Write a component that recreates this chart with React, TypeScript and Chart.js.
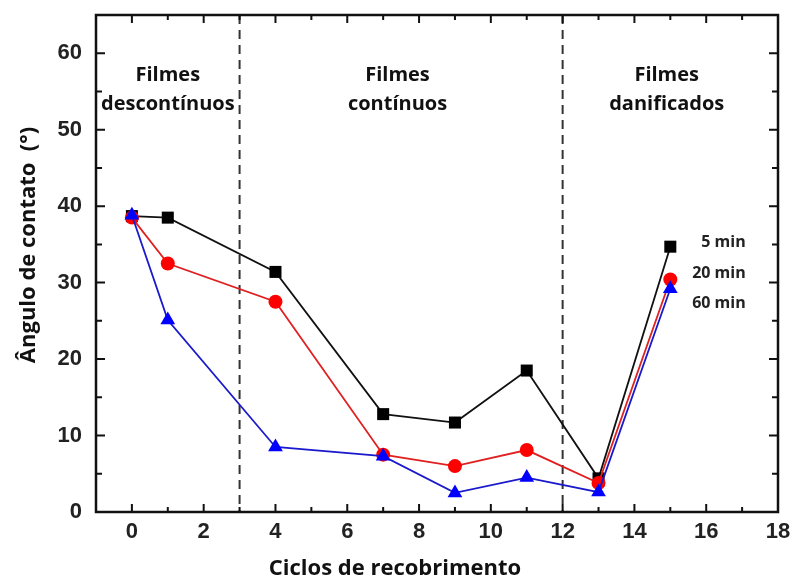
import React, { useEffect, useRef } from "react";
import { Chart, registerables } from "chart.js";

Chart.register(...registerables);

const cycles = [0, 1, 4, 7, 9, 11, 13, 15];
const series5 = [38.7, 38.5, 31.4, 12.8, 11.7, 18.5, 4.4, 34.7];
const series20 = [38.5, 32.5, 27.5, 7.5, 6.0, 8.1, 3.8, 30.4];
const series60 = [38.8, 25.1, 8.5, 7.3, 2.5, 4.5, 2.6, 29.2];
const xTickLabels = [0, 2, 4, 6, 8, 10, 12, 14, 16, 18];
const yTickLabels = [0, 10, 20, 30, 40, 50, 60];
const dividers = [3, 12];
const regionLabels = [
  { x: 1.0, lines: ["Filmes", "descontínuos"] },
  { x: 7.4, lines: ["Filmes", "contínuos"] },
  { x: 14.9, lines: ["Filmes", "danificados"] },
];
const seriesLabels = [
  { text: "5 min", y: 35.3 },
  { text: "20 min", y: 31.2 },
  { text: "60 min", y: 27.3 },
];

const toPts = (ys: number[]) => cycles.map((x, i) => ({ x, y: ys[i] }));

export default function App() {
  const ref = useRef<HTMLCanvasElement | null>(null);
  useEffect(() => {
    if (!ref.current) return;
    const deco = {
      id: "deco",
      beforeDatasetsDraw(chart: any) {
        const { ctx, chartArea, scales } = chart;
        ctx.save();
        ctx.strokeStyle = "#333";
        ctx.lineWidth = 2;
        ctx.setLineDash([9, 6]);
        dividers.forEach((d) => {
          const px = scales.x.getPixelForValue(d);
          ctx.beginPath();
          ctx.moveTo(px, chartArea.top);
          ctx.lineTo(px, chartArea.bottom);
          ctx.stroke();
        });
        ctx.restore();
      },
      afterDraw(chart: any) {
        const { ctx, chartArea, scales } = chart;
        const { left, right, top, bottom } = chartArea;
        ctx.save();
        ctx.strokeStyle = "#111";
        ctx.lineWidth = 2.5;
        ctx.strokeRect(left, top, right - left, bottom - top);
        ctx.lineWidth = 2;
        for (let v = -1; v <= 18; v++) {
          const px = scales.x.getPixelForValue(v);
          const len = v % 2 === 0 ? 8 : 5;
          ctx.beginPath();
          ctx.moveTo(px, bottom);
          ctx.lineTo(px, bottom - len);
          ctx.moveTo(px, top);
          ctx.lineTo(px, top + len);
          ctx.stroke();
        }
        for (let v = 0; v <= 65; v += 5) {
          const py = scales.y.getPixelForValue(v);
          const len = v % 10 === 0 ? 9 : 6;
          ctx.beginPath();
          ctx.moveTo(left, py);
          ctx.lineTo(left + len, py);
          ctx.moveTo(right, py);
          ctx.lineTo(right - len, py);
          ctx.stroke();
        }
        ctx.fillStyle = "#111";
        ctx.font = "bold 20px 'Open Sans'";
        ctx.textAlign = "center";
        ctx.textBaseline = "middle";
        regionLabels.forEach((r) => {
          const px = scales.x.getPixelForValue(r.x);
          r.lines.forEach((t, i) => ctx.fillText(t, px, 75 + i * 29));
        });
        ctx.fillStyle = "#222";
        ctx.font = "bold 16px 'Open Sans'";
        ctx.textAlign = "right";
        seriesLabels.forEach((s) => {
          ctx.fillText(s.text, scales.x.getPixelForValue(17.1), scales.y.getPixelForValue(s.y));
        });
        ctx.fillStyle = "#111";
        ctx.font = "bold 22px 'Open Sans'";
        ctx.textAlign = "center";
        ctx.fillText("Ciclos de recobrimento", 395, 569);
        ctx.translate(29, 245);
        ctx.rotate(-Math.PI / 2);
        ctx.font = "bold 22px 'Open Sans'";
        ctx.fillText("Ângulo de contato  (°)", 0, 0);
        ctx.restore();
      },
    };
    const chart = new Chart(ref.current, {
      type: "line",
      data: {
        datasets: [
          {
            label: "5 min",
            data: toPts(series5),
            borderColor: "#111",
            backgroundColor: "#000",
            borderWidth: 1.8,
            pointStyle: "rect",
            pointRadius: 8.5,
            pointBorderWidth: 0,
            order: 2,
          },
          {
            label: "20 min",
            data: toPts(series20),
            borderColor: "#e02020",
            backgroundColor: "#ff0000",
            borderWidth: 1.8,
            pointStyle: "circle",
            pointRadius: 7,
            pointBorderWidth: 0,
            order: 1,
          },
          {
            label: "60 min",
            data: toPts(series60),
            borderColor: "#1a1acc",
            backgroundColor: "#0000ff",
            borderWidth: 1.8,
            pointStyle: "triangle",
            pointRadius: 8.5,
            pointBorderWidth: 0,
            order: 0,
          },
        ],
      },
      options: {
        animation: false,
        responsive: false,
        maintainAspectRatio: false,
        layout: { padding: { top: 15, right: 16, left: 0, bottom: 0 } },
        plugins: { legend: { display: false }, tooltip: { enabled: false } },
        scales: {
          x: {
            type: "linear",
            min: -1,
            max: 18,
            afterFit: (s: any) => {
              s.height = 71;
              s.paddingLeft = 0;
              s.paddingRight = 0;
            },
            afterBuildTicks: (s: any) => {
              s.ticks = xTickLabels.map((v) => ({ value: v }));
            },
            grid: { display: false, drawTicks: false },
            border: { display: false },
            ticks: {
              padding: 7,
              color: "#222",
              font: { family: "'Liberation Sans'", weight: "bold", size: 22 },
            },
          },
          y: {
            type: "linear",
            min: 0,
            max: 65,
            afterFit: (s: any) => {
              s.width = 96;
              s.paddingTop = 0;
              s.paddingBottom = 0;
            },
            afterBuildTicks: (s: any) => {
              s.ticks = yTickLabels.map((v) => ({ value: v }));
            },
            grid: { display: false, drawTicks: false },
            border: { display: false },
            ticks: {
              padding: 14,
              color: "#222",
              font: { family: "'Liberation Sans'", weight: "bold", size: 22 },
            },
          },
        },
      },
      plugins: [deco],
    } as any);
    return () => chart.destroy();
  }, []);
  return (
    <div style={{ position: "absolute", left: 0, top: 0, width: 794, height: 583, background: "#fff" }}>
      <canvas ref={ref} width={794} height={583} style={{ display: "block" }} />
    </div>
  );
}
